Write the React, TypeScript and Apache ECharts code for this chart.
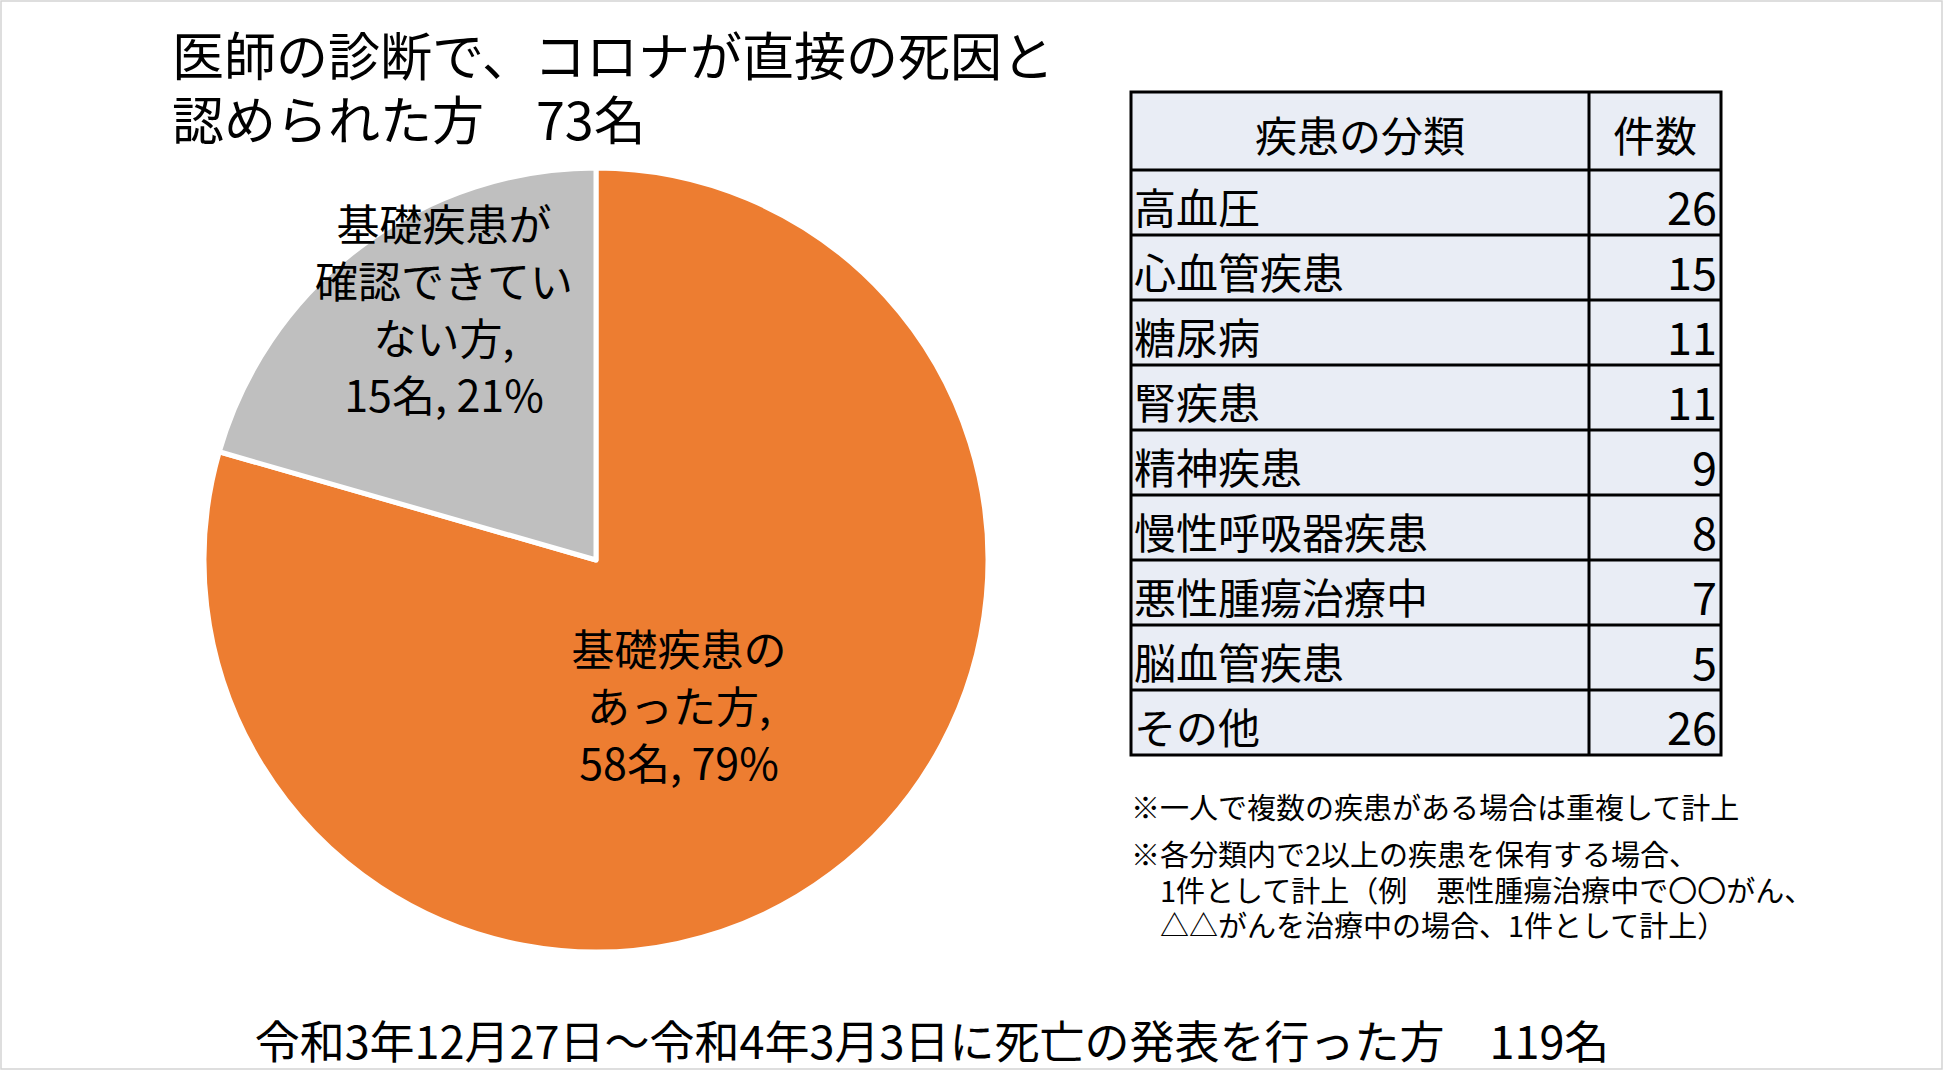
import React, { useEffect, useRef } from "react";
import * as echarts from "echarts";

const titleLines = ["医師の診断で、コロナが直接の死因と", "認められた方　73名"];
const pieNames = ["基礎疾患の\nあった方", "基礎疾患が\n確認できてい\nない方"];
const pieValues = [58, 15];
const pieColors = ["#ED7D31", "#BFBFBF"];
const tableHeader = ["疾患の分類", "件数"];
const diseaseNames = ["高血圧", "心血管疾患", "糖尿病", "腎疾患", "精神疾患", "慢性呼吸器疾患", "悪性腫瘍治療中", "脳血管疾患", "その他"];
const diseaseCounts = [26, 15, 11, 11, 9, 8, 7, 5, 26];
const note1 = "※一人で複数の疾患がある場合は重複して計上";
const note2Lines = [
  "※各分類内で2以上の疾患を保有する場合、",
  "　1件として計上（例　悪性腫瘍治療中で〇〇がん、",
  "　△△がんを治療中の場合、1件として計上）",
];
const footer = "令和3年12月27日～令和4年3月3日に死亡の発表を行った方　119名";

const FONT = "'Noto Sans CJK JP', 'Noto Sans', sans-serif";

export default function App() {
  const ref = useRef<HTMLDivElement>(null);
  useEffect(() => {
    document.body.style.margin = "0";
    const chart = echarts.init(ref.current!, undefined, { renderer: "svg" });

    const tLeft = 1131, tRight = 1721, tDiv = 1589, tTop = 92, headH = 78, rowH = 65;
    const tableEls: any[] = [];
    tableEls.push({
      type: "rect",
      shape: { x: tLeft, y: tTop, width: tRight - tLeft, height: headH + rowH * diseaseNames.length },
      style: { fill: "#E9EDF5", stroke: "#000", lineWidth: 3 },
    });
    for (let i = 0; i < diseaseNames.length; i++) {
      const y = tTop + headH + rowH * i;
      tableEls.push({
        type: "line",
        shape: { x1: tLeft, y1: y, x2: tRight, y2: y },
        style: { stroke: "#000", lineWidth: 3 },
      });
    }
    tableEls.push({
      type: "line",
      shape: { x1: tDiv, y1: tTop, x2: tDiv, y2: tTop + headH + rowH * diseaseNames.length },
      style: { stroke: "#000", lineWidth: 3 },
    });
    tableEls.push({
      type: "text", x: (tLeft + tDiv) / 2, y: tTop + headH / 2 + 2,
      style: { text: tableHeader[0], font: `42px ${FONT}`, lineHeight: 44, fill: "#000", align: "center", verticalAlign: "middle" },
    });
    tableEls.push({
      type: "text", x: (tDiv + tRight) / 2, y: tTop + headH / 2 + 2,
      style: { text: tableHeader[1], font: `42px ${FONT}`, lineHeight: 44, fill: "#000", align: "center", verticalAlign: "middle" },
    });
    diseaseNames.forEach((n, i) => {
      const cy = tTop + headH + rowH * i + rowH / 2 + 3;
      tableEls.push({
        type: "text", x: tLeft + 3, y: cy,
        style: { text: n, font: `42px ${FONT}`, lineHeight: 44, fill: "#000", align: "left", verticalAlign: "middle" },
      });
      tableEls.push({
        type: "text", x: tRight - 4, y: cy,
        style: { text: String(diseaseCounts[i]), font: `45px ${FONT}`, lineHeight: 46, fill: "#000", align: "right", verticalAlign: "middle" },
      });
    });

    const labelPos = [
      { x: 679, y: 704 },
      { x: 444, y: 307 },
    ];

    chart.setOption({
      animation: false,
      backgroundColor: "#fff",
      series: [
        {
          type: "pie",
          center: [596, 560],
          radius: [0, 392],
          startAngle: 90,
          clockwise: true,
          data: pieValues.map((v, i) => ({ name: pieNames[i], value: v, itemStyle: { color: pieColors[i] } })),
          itemStyle: { borderColor: "#fff", borderWidth: 5 },
          label: {
            show: true,
            position: "inside",
            formatter: (p: any) => `${p.name},\n${p.value}名, ${Math.round(p.percent)}%`,
            fontFamily: FONT,
            fontSize: 43,
            lineHeight: 57,
            color: "#000",
            align: "center",
          },
          labelLine: { show: false },
          labelLayout: (params: any) => ({
            x: labelPos[params.dataIndex].x,
            y: labelPos[params.dataIndex].y,
            align: "center",
            verticalAlign: "middle",
          }),
          emphasis: { disabled: true },
        },
      ],
      graphic: [
        {
          type: "rect",
          shape: { x: 1, y: 1, width: 1941, height: 1068 },
          style: { fill: "none", stroke: "#D4D4D4", lineWidth: 1.5 },
          silent: true,
        },
        {
          type: "text", x: 172, y: 85,
          style: { text: titleLines.join("\n"), font: `52px ${FONT}`, lineHeight: 64, fill: "#000", align: "left", verticalAlign: "middle" },
        },
        ...tableEls,
        {
          type: "text", x: 1131, y: 806,
          style: { text: note1, font: `29px ${FONT}`, lineHeight: 30, fill: "#000", align: "left", verticalAlign: "middle" },
        },
        {
          type: "text", x: 1131, y: 888.5,
          style: { text: note2Lines.join("\n"), font: `29px ${FONT}`, lineHeight: 35.5, fill: "#000", align: "left", verticalAlign: "middle" },
        },
        {
          type: "text", x: 932, y: 1039,
          style: { text: footer, font: `45px ${FONT}`, lineHeight: 47, fill: "#000", align: "center", verticalAlign: "middle" },
        },
      ],
    });
    return () => chart.dispose();
  }, []);
  return <div ref={ref} style={{ width: 1944, height: 1072 }} />;
}
